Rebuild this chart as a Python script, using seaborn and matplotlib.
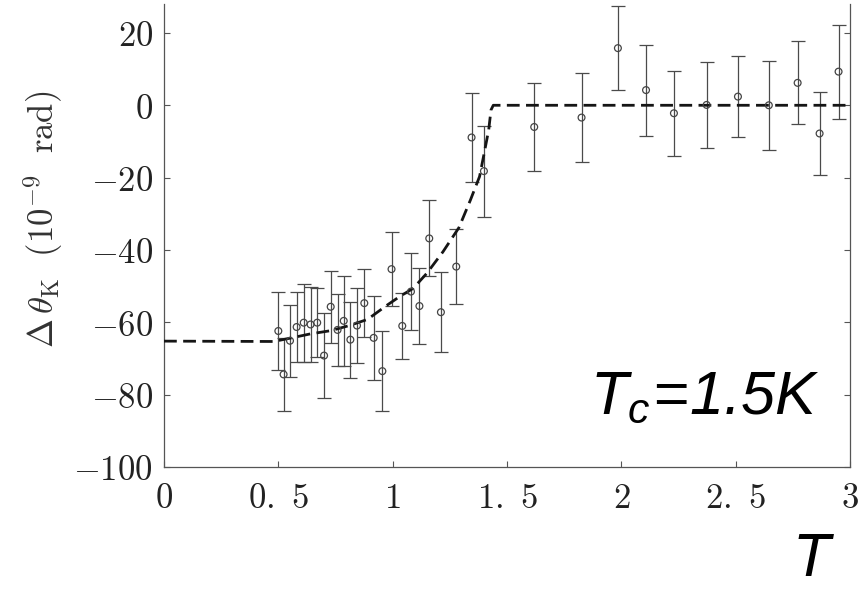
import numpy as np
import pandas as pd
import matplotlib
matplotlib.use("Agg")
import matplotlib.pyplot as plt
import seaborn as sns

# ---------------- data ----------------
temperature = [0.500, 0.523, 0.551, 0.580, 0.611, 0.641, 0.670, 0.700, 0.729,
               0.759, 0.786, 0.815, 0.844, 0.876, 0.917, 0.955, 0.995, 1.042,
               1.080, 1.117, 1.160, 1.211, 1.278, 1.345, 1.399, 1.619, 1.826,
               1.985, 2.108, 2.230, 2.373, 2.510, 2.645, 2.771, 2.867, 2.950]
delta_theta = [-62.4, -74.4, -65.1, -61.3, -60.1, -60.6, -60.1, -69.2, -55.7,
               -62.1, -59.6, -64.8, -60.9, -54.7, -64.3, -73.5, -45.3, -61.0,
               -51.5, -55.5, -36.8, -57.2, -44.6, -8.9, -18.2, -6.0, -3.4,
               15.8, 4.2, -2.2, 0.1, 2.4, 0.0, 6.2, -7.8, 9.3]
error = [10.8, 10.0, 10.0, 9.7, 10.8, 10.5, 9.6, 11.8, 10.0,
         10.0, 12.4, 10.5, 10.4, 9.4, 11.7, 11.0, 10.2, 9.1,
         10.6, 10.4, 10.5, 11.0, 10.3, 12.4, 12.6, 12.1, 12.4,
         11.7, 12.6, 11.8, 11.9, 11.2, 12.3, 11.5, 11.6, 13.0]

curve_T = [0.00, 0.48, 0.55, 0.64, 0.73, 0.81, 0.89, 0.97, 1.03, 1.09,
           1.15, 1.22, 1.29, 1.34, 1.38, 1.40, 1.42, 1.43, 1.44, 3.00]
curve_V = [-65.2, -65.3, -64.4, -63.2, -62.3, -60.9, -59.2, -55.5, -52.9, -50.6,
           -46.4, -40.5, -33.8, -26.2, -19.7, -13.3, -6.8, -1.3, 0.0, 0.0]

x_ticks = [0, 0.5, 1, 1.5, 2, 2.5, 3]
x_tick_labels = ["0", "0.\\ 5", "1", "1.\\ 5", "2", "2.\\ 5", "3"]
y_ticks = [20, 0, -20, -40, -60, -80, -100]
y_tick_labels = ["20", "0", "-20", "-40", "-60", "-80", "-100"]

annotation = r"$T_c\!=\!1.5K$"
x_name = "T"
y_name = r"$\Delta\,\mathbf{\theta}_{\rm K}\ \ (10^{-9}\ \ {\rm rad})$"

# ---------------- styling ----------------
sns.set_style("ticks")
plt.rcParams["font.family"] = ["DejaVu Serif"]
plt.rcParams["mathtext.fontset"] = "cm"
# the "custom" math font set is used only by the Tc annotation
plt.rcParams["mathtext.it"] = "Liberation Sans:italic"
plt.rcParams["mathtext.rm"] = "Liberation Sans:italic"
plt.rcParams["mathtext.bf"] = "Liberation Sans:bold:italic"

points = pd.DataFrame({"T": temperature, "V": delta_theta, "E": error})
curve = pd.DataFrame({"T": curve_T, "V": curve_V})

fig = plt.figure(figsize=(8.59, 5.90), dpi=100)
ax = fig.add_axes([164 / 859, 1 - 467 / 590, 686 / 859, 463 / 590])

ax.errorbar(points["T"], points["V"], yerr=points["E"], fmt="none",
            ecolor="#4a4a4a", elinewidth=0.9, capsize=5.2, capthick=0.9, zorder=2)
sns.lineplot(data=curve, x="T", y="V", ax=ax, color="#151515", lw=2.0,
             linestyle=(0, (4.6, 2.3)), sort=False, estimator=None, zorder=3)
sns.scatterplot(data=points, x="T", y="V", ax=ax, marker="o", s=24,
                facecolor="none", edgecolor="#444444", linewidth=0.9, zorder=4)

ax.set_xlim(0, 3)
ax.set_ylim(-100, 28)
ax.set_xticks(x_ticks)
ax.set_xticklabels(["$" + s + "$" for s in x_tick_labels])
ax.set_yticks(y_ticks)
ax.set_yticklabels(["$" + s + "$" for s in y_tick_labels])
ax.tick_params(axis="both", direction="in", length=4, width=0.8,
               color="#555555", labelsize=25, labelcolor="#222222")
ax.tick_params(axis="x", pad=10)
ax.tick_params(axis="y", pad=8, right=True)

for side in ["left", "bottom", "right"]:
    ax.spines[side].set_color("#555555")
    ax.spines[side].set_linewidth(0.9)
ax.spines["top"].set_visible(False)

ax.set_xlabel("")
ax.set_ylabel(y_name, fontsize=25, color="#333333")
ax.yaxis.set_label_coords(-0.145, 0.535)

fig.text(590 / 859, 1 - 413 / 590, annotation, fontsize=44, color="black",
         ha="left", va="baseline", math_fontfamily="custom")
fig.text(792 / 859, 1 / 590, x_name, fontsize=44, color="black",
         ha="left", va="bottom", family="Liberation Sans", style="italic")

fig.savefig("out.png", dpi=100)
